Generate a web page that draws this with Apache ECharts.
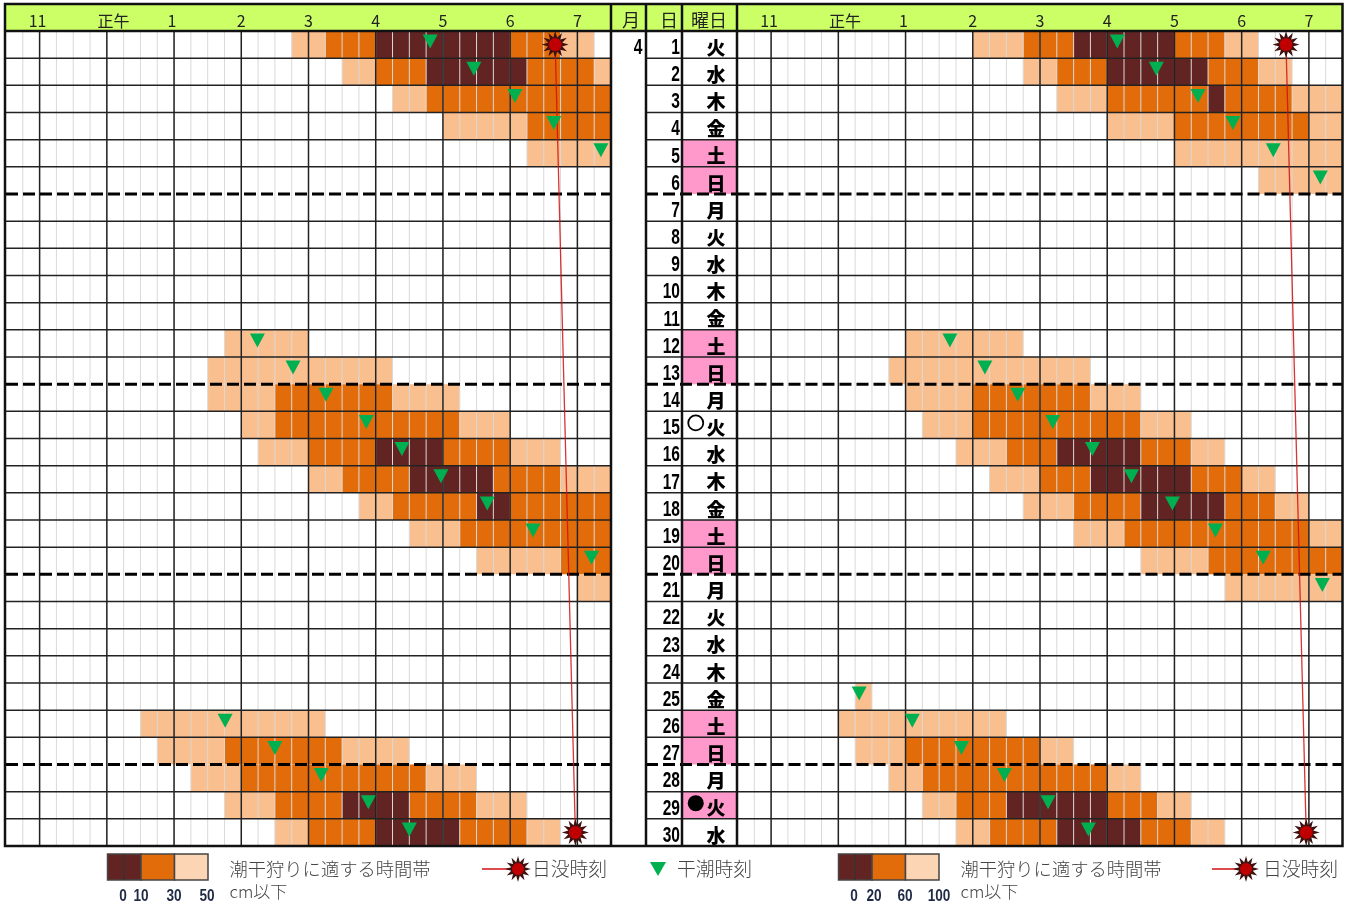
<!DOCTYPE html>
<html><head><meta charset="utf-8">
<style>html,body{margin:0;padding:0;background:#fff;overflow:hidden}#c{width:1354px;height:908px}</style>
<script src="https://cdn.jsdelivr.net/npm/echarts@6/dist/echarts.min.js"></script>
</head><body><div id="c"></div>
<script>
// ---- data ----
const dayLabels = Array.from({length:30},(_,i)=>String(i+1));
const weekdays = ['火','水','木','金','土','日','月','火','水','木','金','土','日','月','火','水','木','金','土','日','月','火','水','木','金','土','日','月','火','水'];
const hourTicks = [11,12,13,14,15,16,17,18,19];
const labelValues = [10.97,12.1,12.97,14,15,16,17,18,19];
const hourNames = {10.97:'11',12.1:'正午',12.97:'1',14:'2',15:'3',16:'4',17:'5',18:'6',19:'7'};
const weekEnds = [6,13,20,27];
const moonNew = [29], moonFull = [15];
const monthLabel = '4';
// bands: [day, first quarter-hour slot, end slot, level] slot 0 = 10:30; level 1 dark, 2 orange, 3 light
const bandsLeft = [
 [1,17,19,3],[1,19,22,2],[1,22,30,1],[1,30,33,2],[1,33,35,3],
 [2,20,22,3],[2,22,25,2],[2,25,31,1],[2,31,35,2],[2,35,36,3],
 [3,23,25,3],[3,25,36,2],
 [4,26,31,3],[4,31,36,2],
 [5,31,36,3],
 [12,13,18,3],
 [13,12,23,3],
 [14,12,16,3],[14,16,23,2],[14,23,27,3],
 [15,14,16,3],[15,16,27,2],[15,27,30,3],
 [16,15,18,3],[16,18,22,2],[16,22,26,1],[16,26,30,2],[16,30,33,3],
 [17,18,20,3],[17,20,24,2],[17,24,29,1],[17,29,33,2],[17,33,36,3],
 [18,21,23,3],[18,23,28,2],[18,28,30,1],[18,30,36,2],
 [19,24,27,3],[19,27,36,2],
 [20,28,33,3],[20,33,36,2],
 [21,34,36,3],
 [26,8,19,3],
 [27,9,13,3],[27,13,20,2],[27,20,24,3],
 [28,11,14,3],[28,14,25,2],[28,25,28,3],
 [29,13,16,3],[29,16,20,2],[29,20,24,1],[29,24,28,2],[29,28,31,3],
 [30,16,18,3],[30,18,22,2],[30,22,27,1],[30,27,31,2],[30,31,33,3]
];
const bandsRight = [
 [1,14,17,3],[1,17,20,2],[1,20,26,1],[1,26,29,2],[1,29,31,3],
 [2,17,19,3],[2,19,22,2],[2,22,28,1],[2,28,31,2],[2,31,33,3],
 [3,19,22,3],[3,22,28,2],[3,28,29,1],[3,29,33,2],[3,33,36,3],
 [4,22,26,3],[4,26,34,2],[4,34,36,3],
 [5,26,36,3],
 [6,31,36,3],
 [12,10,17,3],
 [13,9,21,3],
 [14,10,14,3],[14,14,21,2],[14,21,24,3],
 [15,11,14,3],[15,14,24,2],[15,24,27,3],
 [16,13,16,3],[16,16,19,2],[16,19,24,1],[16,24,27,2],[16,27,29,3],
 [17,15,18,3],[17,18,21,2],[17,21,27,1],[17,27,30,2],[17,30,32,3],
 [18,17,20,3],[18,20,24,2],[18,24,29,1],[18,29,32,2],[18,32,34,3],
 [19,20,23,3],[19,23,34,2],[19,34,36,3],
 [20,24,28,3],[20,28,36,2],
 [21,29,36,3],
 [25,7,8,3],
 [26,6,16,3],
 [27,7,10,3],[27,10,18,2],[27,18,20,3],
 [28,9,11,3],[28,11,22,2],[28,22,24,3],
 [29,11,13,3],[29,13,16,2],[29,16,22,1],[29,22,25,2],[29,25,27,3],
 [30,13,15,3],[30,15,19,2],[30,19,24,1],[30,24,27,2],[30,27,29,3]
];
// low tide time [day, hour]
const lowLeft = [[1,16.81],[2,17.46],[3,18.07],[4,18.65],[5,19.35],
 [12,14.24],[13,14.77],[14,15.26],[15,15.86],[16,16.39],[17,16.97],[18,17.66],[19,18.34],[20,19.21],
 [26,13.76],[27,14.50],[28,15.19],[29,15.89],[30,16.50]];
const lowRight = [[1,16.15],[2,16.73],[3,17.35],[4,17.87],[5,18.47],[6,19.17],
 [12,13.66],[13,14.18],[14,14.67],[15,15.19],[16,15.78],[17,16.36],[18,16.97],[19,17.61],[20,18.32],[21,19.20],
 [25,12.31],[26,13.10],[27,13.83],[28,14.47],[29,15.12],[30,15.72]];
// sunset [day, hour]
const sunsetLeft = [[1,18.67],[30,18.97]];
const sunsetRight = [[1,18.66],[30,18.96]];
const legendLeftTicks = ['0','10','30','50'];
const legendRightTicks = ['0','20','60','100'];

// ---- style ----
const LEVEL = {1:'#622423',2:'#E36C0A',3:'#FABF8F'};
const JP = '"Noto Sans CJK JP"';
const SANS = '"Liberation Sans"';
const GREEN = '#00B050';
const slotHour = s => 10.5 + s/4;
const slots = Array.from({length:35},(_,i)=>slotHour(i+1));
const line = (x1,y1,x2,y2,stroke,lineWidth,z,dash)=>({type:'line',z:z||100,silent:true,shape:{x1,y1,x2,y2},style:{stroke,lineWidth,lineDash:dash||null}});
function sunPts(cx,cy,R,r,n){const p=[];for(let i=0;i<2*n;i++){const a=Math.PI*i/n-Math.PI/2,q=i%2?r:R;p.push([cx+q*Math.cos(a),cy+q*Math.sin(a)]);}return p;}
const sunPath = 'path://M'+sunPts(50,50,50,27,12).map(p=>p[0].toFixed(1)+' '+p[1].toFixed(1)).join('L')+'Z';
const TRI = 'path://M0 0L14 0L7 13Z';

const grids=[{left:6,top:31,width:605,height:815},{left:682,top:31,width:55,height:815},{left:737.5,top:31,width:605,height:815}];
const xAxes=[], yAxes=[], series=[];
function timeAxis(i){
 xAxes[i]={gridIndex:i,type:'value',position:'top',min:10.5,max:19.5,splitLine:{show:false},axisLine:{show:false},axisTick:{show:false},
  axisLabel:{customValues:labelValues,margin:2,color:'#222',fontFamily:JP,fontSize:16,formatter:v=>hourNames[v]||''}};
}
function dayAxis(i){
 yAxes[i]={gridIndex:i,type:'category',inverse:true,data:dayLabels,splitLine:{show:false},axisLine:{show:false},axisTick:{show:false},axisLabel:{show:false}};
}
function rowLines(i,extendLeft){
 series.push({type:'custom',xAxisIndex:i,yAxisIndex:i,z:4,silent:true,clip:false,animation:false,
  data:dayLabels.map((d,k)=>[xAxes[i].min,k]),
  renderItem(p,api){const k=api.value(1),h=api.size([0,1])[1],y=api.coord([api.value(0),k])[1]+h/2,c=p.coordSys;
   if(k===29) return null;
   const wk=weekEnds.includes(k+1);
   return {type:'line',shape:{x1:c.x-extendLeft,y1:y,x2:c.x+c.width,y2:y},
     style:wk?{stroke:'#000',lineWidth:3,lineDash:[12,5]}:{stroke:'#222',lineWidth:1.5},z2:wk?5:1};}});
}
function vLines(i,vals,stroke,w,z){
 series.push({type:'custom',xAxisIndex:i,yAxisIndex:i,z,silent:true,clip:false,animation:false,
  data:vals.map(v=>[v,0]),
  renderItem(p,api){const x=api.coord([api.value(0),0])[0],c=p.coordSys;
   return {type:'line',shape:{x1:x,y1:c.y,x2:x,y2:c.y+c.height},style:{stroke,lineWidth:w}};}});
}
function panel(i,bands,lows,sunset){
 timeAxis(i);dayAxis(i);
 series.push({type:'custom',name:'潮干狩りに適する時間帯',xAxisIndex:i,yAxisIndex:i,z:1,silent:true,animation:false,
  data:bands.map(b=>[slotHour(b[1]),b[0]-1,slotHour(b[2]),b[3]]),
  renderItem(p,api){const a=api.coord([api.value(0),api.value(1)]),b=api.coord([api.value(2),api.value(1)]),h=api.size([0,1])[1];
   return {type:'rect',shape:{x:a[0],y:a[1]-h/2,width:b[0]-a[0],height:h},style:{fill:LEVEL[api.value(3)]}};}});
 vLines(i,slots,'#D9D9D9',1,2);
 vLines(i,hourTicks,'#222',1.5,3);
 rowLines(i,0);
 series.push({type:'line',name:'日没時刻',xAxisIndex:i,yAxisIndex:i,z:6,silent:true,animation:false,
  data:sunset.map(s=>[s[1],s[0]-1]),lineStyle:{color:'#D01010',width:1.3,opacity:.85},symbol:'none'});
 series.push({type:'scatter',xAxisIndex:i,yAxisIndex:i,z:7,silent:true,animation:false,
  data:sunset.map(s=>[s[1],s[0]-1]),symbol:sunPath,symbolSize:27,itemStyle:{color:'#3F1010',opacity:1}});
 series.push({type:'scatter',xAxisIndex:i,yAxisIndex:i,z:7.5,silent:true,animation:false,
  data:sunset.map(s=>[s[1],s[0]-1]),symbolSize:13,itemStyle:{color:'#C00000',opacity:1}});
 series.push({type:'scatter',name:'干潮時刻',xAxisIndex:i,yAxisIndex:i,z:8,silent:true,animation:false,
  data:lows.map(s=>[s[1],s[0]-1]),symbol:TRI,symbolSize:[15,14],symbolOffset:[0,-3],itemStyle:{color:GREEN,opacity:1}});
}
panel(0,bandsLeft,lowLeft,sunsetLeft);
panel(2,bandsRight,lowRight,sunsetRight);
// middle table
xAxes[1]={gridIndex:1,type:'value',min:0,max:1,show:false};
dayAxis(1);
series.push({type:'custom',xAxisIndex:1,yAxisIndex:1,z:1,silent:true,animation:false,
 data:weekdays.map((w,k)=>(w==='土'||w==='日'||moonNew.includes(k+1))?[0,k]:null).filter(Boolean),
 renderItem(p,api){const c=p.coordSys,h=api.size([0,1])[1],y=api.coord([0,api.value(1)])[1];
  return {type:'rect',shape:{x:c.x,y:y-h/2,width:c.width,height:h},style:{fill:'#FF99CC'}};}});
rowLines(1,36);
// day numbers (condensed) and weekday glyphs
series.push({type:'custom',xAxisIndex:1,yAxisIndex:1,z:6,silent:true,animation:false,clip:false,
 data:dayLabels.map((d,k)=>[0,k]),
 renderItem(p,api){const k=api.value(1),c=api.coord([0,k]);
  return {type:'text',x:c[0]-2,y:c[1]+3,scaleX:.74,scaleY:1.08,style:{text:dayLabels[k],x:0,y:0,align:'right',verticalAlign:'middle',fontFamily:SANS,fontWeight:'bold',fontSize:21,fill:'#000'}};}});
series.push({type:'custom',xAxisIndex:1,yAxisIndex:1,z:6,silent:true,animation:false,clip:false,
 data:weekdays.map((w,k)=>[0.62,k]),
 renderItem(p,api){const k=api.value(1),c=api.coord([api.value(0),k]);
  return {type:'text',x:c[0],y:c[1]+3,style:{text:weekdays[k],x:0,y:0,align:'center',verticalAlign:'middle',fontFamily:JP,fontWeight:900,fontSize:19,fill:'#000'}};}});
series.push({type:'scatter',xAxisIndex:1,yAxisIndex:1,z:6,silent:true,animation:false,symbolSize:16,symbolOffset:[0,-2],
 data:moonNew.map(d=>[0.25,d-1]),itemStyle:{color:'#000',opacity:1}});
series.push({type:'scatter',xAxisIndex:1,yAxisIndex:1,z:6,silent:true,animation:false,symbolSize:15,symbolOffset:[0,-2],
 data:moonFull.map(d=>[0.25,d-1]),itemStyle:{color:'#fff',borderColor:'#000',borderWidth:1.8,opacity:1}});

// graphics: header, frame, legends
const T=(x,y,text,fs,extra)=>({type:'text',z:100,silent:true,x,y,style:Object.assign({text,fontFamily:JP,fontSize:fs,fill:'#222',align:'center',verticalAlign:'middle'},extra||{})});
const g=[{type:'rect',z:-1,silent:true,shape:{x:5,y:4,width:1337,height:27},style:{fill:'#CCFF66'}}];
g.push({type:'rect',z:100,silent:true,shape:{x:5,y:4,width:1337.5,height:842},style:{fill:null,stroke:'#111',lineWidth:2.5}});
[611,646,682,737].forEach(x=>g.push(line(x,4,x,846,'#111',2.5)));
g.push(line(5,31,1342,31,'#111',2.5));
g.push(T(631,20,'月',18),T(669,20,'日',18),T(709,20,'曜日',18));
g.push(Object.assign(T(638,48,monthLabel,21,{fontFamily:SANS,fontWeight:'bold',fill:'#000'}),{scaleX:.74,scaleY:1.08}));
function legend(x0,ticks,tickX,lineX,sunX,sunTextX){
 const y=854,h=26,w=33.5;
 g.push({type:'rect',z:100,silent:true,shape:{x:x0,y,width:w,height:h},style:{fill:LEVEL[1],stroke:'#444',lineWidth:1.5}});
 g.push({type:'rect',z:100,silent:true,shape:{x:x0+w,y,width:w,height:h},style:{fill:LEVEL[2],stroke:'#444',lineWidth:1.5}});
 g.push({type:'rect',z:100,silent:true,shape:{x:x0+2*w,y,width:w,height:h},style:{fill:'#FCD5B4',stroke:'#444',lineWidth:1.5}});
 g.push(line(x0+w/2,y,x0+w/2,y+h,'#333',1.2));
 ticks.forEach((t,i)=>g.push(Object.assign(T(tickX[i],897,t,16,{fontFamily:SANS,fontWeight:'bold',fill:'#1F2A44'}),{scaleX:.85})));
 g.push(T(x0+122,869,'潮干狩りに適する時間帯',18.3,{align:'left',fill:'#444',fontWeight:300}));
 g.push(T(x0+122,892,'cm以下',17,{align:'left',fill:'#444',fontWeight:300}));
 g.push(line(lineX,869,sunX,869,'#D01010',1.5));
 g.push({type:'polygon',z:100,silent:true,shape:{points:sunPts(sunX,869,13,7,12)},style:{fill:'#3F1010'}});
 g.push({type:'circle',z:101,silent:true,shape:{cx:sunX,cy:869,r:6},style:{fill:'#C00000'}});
 g.push(T(sunTextX,869,'日没時刻',18.8,{align:'left',fill:'#444',fontWeight:300}));
}
legend(107.5,legendLeftTicks,[123,141,174,207],482,518,532);
legend(838.5,legendRightTicks,[854,874,905,939],1212,1246,1263);
g.push({type:'polygon',z:100,silent:true,shape:{points:[[650,862],[666,862],[658,876]]},style:{fill:GREEN}});
g.push(T(677,869,'干潮時刻',18.8,{align:'left',fill:'#444',fontWeight:300}));

const chart=echarts.init(document.getElementById('c'),null,{renderer:'canvas'});
chart.setOption({animation:false,backgroundColor:'#fff',grid:grids,xAxis:xAxes,yAxis:yAxes,series,graphic:{elements:g}});
</script></body></html>
